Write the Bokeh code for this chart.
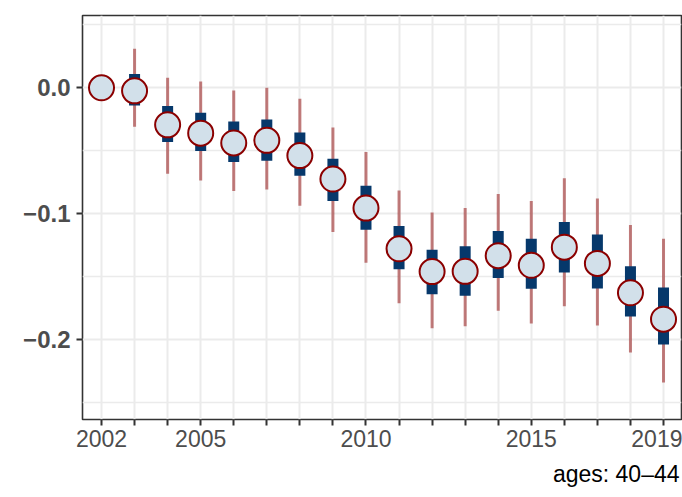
from bokeh.plotting import figure
from bokeh.models import ColumnDataSource, FixedTicker, Range1d, Title
from bokeh.embed import file_html
from bokeh.resources import INLINE

# Yearly estimates relative to 2002, with inner (thick) and outer (thin) intervals
years = list(range(2002, 2020))
estimate = [0.0, -0.0024, -0.0294, -0.0360, -0.0438, -0.0417, -0.0538, -0.0724, -0.0955,
            -0.1278, -0.1459, -0.1457, -0.1333, -0.1409, -0.1265, -0.1394, -0.1627, -0.1837]
outer_low = [0.0, -0.0310, -0.0683, -0.0735, -0.0819, -0.0808, -0.0937, -0.1144, -0.1388,
             -0.1711, -0.1908, -0.1892, -0.1769, -0.1871, -0.1735, -0.1887, -0.2102, -0.2339]
outer_high = [0.0, 0.0310, 0.0079, 0.0050, -0.0021, 0.0000, -0.0087, -0.0315, -0.0509,
              -0.0816, -0.0990, -0.0955, -0.0843, -0.0898, -0.0717, -0.0879, -0.1089, -0.1199]
inner_low = [0.0, -0.0140, -0.0431, -0.0501, -0.0588, -0.0580, -0.0698, -0.0898, -0.1126,
             -0.1441, -0.1638, -0.1651, -0.1509, -0.1596, -0.1467, -0.1593, -0.1816, -0.2037]
inner_high = [0.0, 0.0110, -0.0144, -0.0197, -0.0268, -0.0252, -0.0354, -0.0564, -0.0777,
              -0.1097, -0.1286, -0.1257, -0.1136, -0.1199, -0.1066, -0.1165, -0.1417, -0.1585]

x_labels = {2002: "2002", 2005: "2005", 2010: "2010", 2015: "2015", 2019: "2019"}
y_major = [0.0, -0.1, -0.2]
y_minor = [0.05, -0.05, -0.15, -0.25]
y_labels = {0.0: "0.0", -0.1: "\u22120.1", -0.2: "\u22120.2"}
caption = "ages: 40\u201344"

FONT = "Liberation Sans"

src = ColumnDataSource(dict(year=years, est=estimate, olo=outer_low, ohi=outer_high,
                            ilo=inner_low, ihi=inner_high))

p = figure(width=682, height=497, output_backend="svg", toolbar_location=None,
           x_range=Range1d(2001.425, 2019.544), y_range=Range1d(-0.2633, 0.0574),
           min_border_left=82, min_border_right=1, min_border_top=15, min_border_bottom=78,
           background_fill_color="white", border_fill_color="white")

p.outline_line_color = "#333333"
p.outline_line_width = 1.6

# grid
p.xaxis.ticker = FixedTicker(ticks=years)
p.yaxis.ticker = FixedTicker(ticks=y_major, minor_ticks=y_minor)
p.xgrid.grid_line_color = "#ebebeb"
p.xgrid.grid_line_width = 2
p.ygrid.grid_line_color = "#ebebeb"
p.ygrid.grid_line_width = 2
p.ygrid.minor_grid_line_color = "#ebebeb"
p.ygrid.minor_grid_line_width = 1.5

# axes
p.xaxis.major_label_overrides = {y: x_labels.get(y, "") for y in years}
p.yaxis.major_label_overrides = y_labels
for ax in (p.xaxis[0], p.yaxis[0]):
    ax.axis_line_color = None
    ax.major_tick_in = 0
    ax.major_tick_out = 6
    ax.major_tick_line_width = 2
    ax.major_tick_line_color = "#333333"
    ax.minor_tick_line_color = None
    ax.major_label_text_font = FONT
    ax.major_label_text_color = "#4d4d4d"
p.xaxis.major_label_text_font_size = "23px"
p.yaxis.major_label_text_font_size = "24px"
p.yaxis.major_label_text_font_style = "bold"
p.yaxis.major_label_standoff = 6
p.xaxis.major_label_standoff = 4

# intervals and point estimates
p.segment(x0="year", y0="olo", x1="year", y1="ohi", source=src,
          line_color="#8b0000", line_alpha=0.5, line_width=3)
p.segment(x0="year", y0="ilo", x1="year", y1="ihi", source=src,
          line_color="#06386b", line_width=11, line_cap="butt")
p.scatter(x="year", y="est", source=src, size=25, fill_color="#d2e0ea",
          line_color="#8b0000", line_width=2)

p.add_layout(Title(text=caption, align="right", text_font=FONT,
                   text_font_size="23px", text_font_style="normal",
                   text_color="black", standoff=19, offset=2), "below")

open("out.html", "w").write(file_html(p, INLINE))
